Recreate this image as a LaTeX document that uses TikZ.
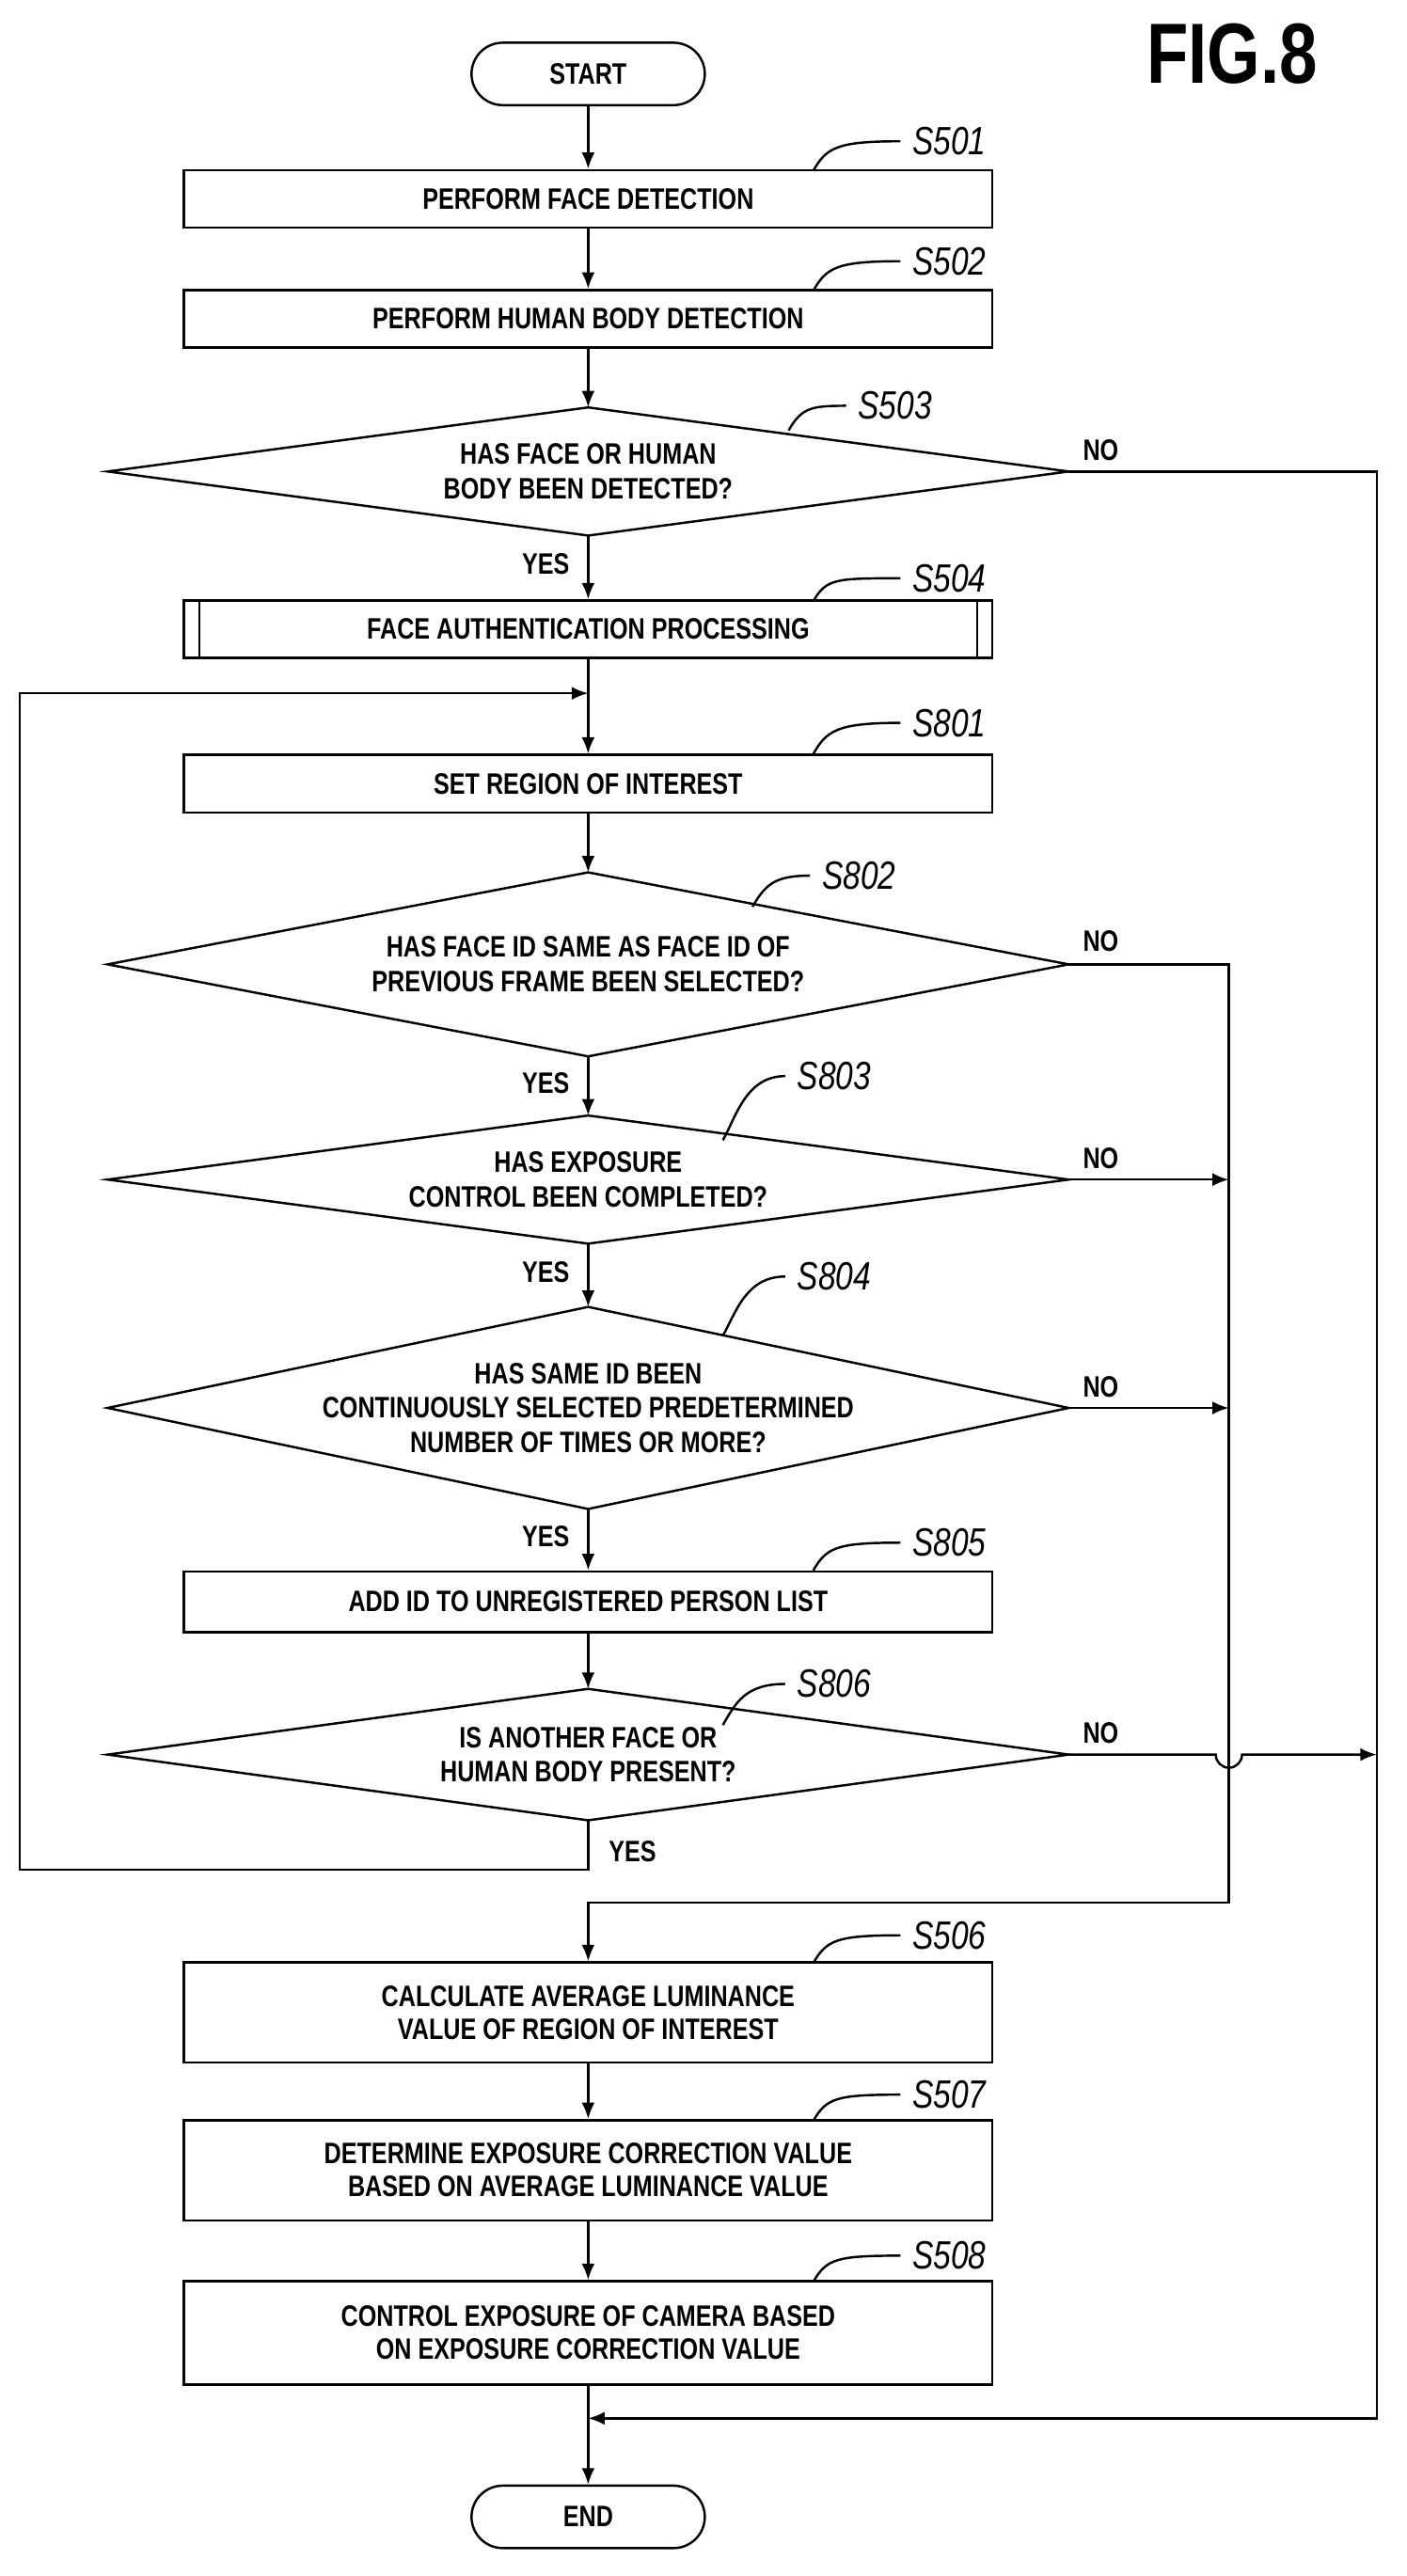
\documentclass[tikz,border=0pt]{standalone}
\usepackage{fontspec}
\setmainfont{Liberation Sans}[FakeStretch=0.8]
\usetikzlibrary{arrows.meta,calc}
\begin{document}
\begin{tikzpicture}[x=0.5pt,y=-0.5pt,line width=0.7pt,
  box/.style={draw,minimum width=492*0.5pt,minimum height=35*0.5pt,inner sep=1pt,font=\bfseries\fontsize{9}{10}\selectfont,align=center},
  bbox/.style={box,minimum height=61*0.5pt},
  term/.style={draw,rounded corners=9.5pt,minimum width=71pt,minimum height=19pt,font=\bfseries\fontsize{9}{10}\selectfont},
  dtext/.style={font=\bfseries\fontsize{9}{10.5}\selectfont,align=center,inner sep=0pt},
  lab/.style={font=\itshape\fontsize{12}{12}\selectfont,anchor=west},
  yn/.style={font=\bfseries\fontsize{9}{10}\selectfont},
  arr/.style={-{Latex[length=5pt,width=4pt]}}]
\useasboundingbox (0,0) rectangle (856,1568);
\newcommand{\dia}[3]{\draw (#1) ++(-#2,0) -- ++(#2,-#3) -- ++(#2,#3) -- ++(-#2,#3) -- cycle;
  \coordinate (#1t) at ($(#1)+(0,-#3)$); \coordinate (#1b) at ($(#1)+(0,#3)$);
  \coordinate (#1r) at ($(#1)+(#2,0)$);}

%title
\node[font=\bfseries\fontsize{26}{26}\selectfont] (fig) at (750,33) {FIG.8};

%start and end
\node[term] (start) at (358,45) {START};
\node[term] (end) at (358,1532) {END};

%boxes
\node[box] (s501) at (358,121) {PERFORM FACE DETECTION};
\node[box] (s502) at (358,194) {PERFORM HUMAN BODY DETECTION};
\node[box] (s504) at (358,383) {FACE AUTHENTICATION PROCESSING};
\draw ([xshift=5pt]s504.north west) -- ([xshift=5pt]s504.south west);
\draw ([xshift=-5pt]s504.north east) -- ([xshift=-5pt]s504.south east);
\node[box] (s801) at (358,477) {SET REGION OF INTEREST};
\node[box,minimum height=37*0.5pt] (s805) at (358,975) {ADD ID TO UNREGISTERED PERSON LIST};
\node[bbox] (s506) at (358,1225) {CALCULATE AVERAGE LUMINANCE\\VALUE OF REGION OF INTEREST};
\node[bbox] (s507) at (358,1321) {DETERMINE EXPOSURE CORRECTION VALUE\\BASED ON AVERAGE LUMINANCE VALUE};
\node[bbox,minimum height=63*0.5pt] (s508) at (358,1420) {CONTROL EXPOSURE OF CAMERA BASED\\ON EXPOSURE CORRECTION VALUE};

%decisions
\node[dtext] (s503) at (358,287) {HAS FACE OR HUMAN\\BODY BEEN DETECTED?};
\dia{s503}{292.5}{39}
\node[dtext] (s802) at (358,587) {HAS FACE ID SAME AS FACE ID OF\\PREVIOUS FRAME BEEN SELECTED?};
\dia{s802}{292.5}{56}
\node[dtext] (s803) at (358,718) {HAS EXPOSURE\\CONTROL BEEN COMPLETED?};
\dia{s803}{292.5}{39}
\node[dtext] (s804) at (358,857) {HAS SAME ID BEEN\\CONTINUOUSLY SELECTED PREDETERMINED\\NUMBER OF TIMES OR MORE?};
\dia{s804}{292.5}{61.5}
\node[dtext] (s806) at (358,1068) {IS ANOTHER FACE OR\\HUMAN BODY PRESENT?};
\dia{s806}{292.5}{40}

%step labels
\foreach \n/\x/\y/\a/\b in {s501/548/86/495/104, s502/548/159/495/177, s504/548/352/495/366,
    s801/548/440/495/459, s805/548/939/495/956, s506/548/1178/495/1195,
    s507/548/1275/495/1291, s508/548/1373/495/1389}
  \draw (\a,\b) .. controls (\a+8,\b-14) and (\a+14,\y) .. (\x,\y) node[lab] {\MakeUppercase\n};
\foreach \n/\x/\y/\a/\b in {s503/515/247/480/262, s802/493/533/458/552, s803/478/655/440/694,
    s804/478/777/440/813, s806/478/1025/440/1050}
  \draw (\a,\b) .. controls (\a+8,\b-14) and (\a+14,\y) .. (\x,\y) node[lab] {\MakeUppercase\n};

%main flow
\draw[arr] (start) -- (s501);
\draw[arr] (s501) -- (s502);
\draw[arr] (s502) -- (s503t);
\draw[arr] (s503b) -- (s504) node[yn,pos=0.45,left=2pt] {YES};
\draw (s504) -- (358,422);
\draw[arr] (358,422) -- (s801);
\draw[arr] (s801) -- (s802t);
\draw[arr] (s802b) -- (s803t) node[yn,pos=0.45,left=2pt] {YES};
\draw[arr] (s803b) -- (s804t) node[yn,pos=0.45,left=2pt] {YES};
\draw[arr] (s804b) -- (s805) node[yn,pos=0.45,left=2pt] {YES};
\draw[arr] (s805) -- (s806t);
\draw[arr] (s506) -- (s507);
\draw[arr] (s507) -- (s508);
\draw[arr] (s508) -- (end);

%loop back
\draw[arr] (s806b) -- (358,1138) -| (12,422) -- (358,422);
\node[yn] (yes806) at (385,1127) {YES};

%no branches
\draw[arr] (s503r) -- (838,287) -- (838,1472) -- (358,1472);
\node[yn] (no503) at (670,274) {NO};
\draw[arr] (s802r) -- (748,587) -- (748,1158) -- (358,1158) -- (s506);
\node[yn] (no802) at (670,573) {NO};
\draw[arr] (s803r) -- (748,718);
\node[yn] (no803) at (670,705) {NO};
\draw[arr] (s804r) -- (748,857);
\node[yn] (no804) at (670,844) {NO};
\draw[arr] (s806r) -- (740,1068) arc[start angle=180,end angle=0,radius=8] -- (838,1068);
\node[yn] (no806) at (670,1055) {NO};
\end{tikzpicture}
\end{document}
